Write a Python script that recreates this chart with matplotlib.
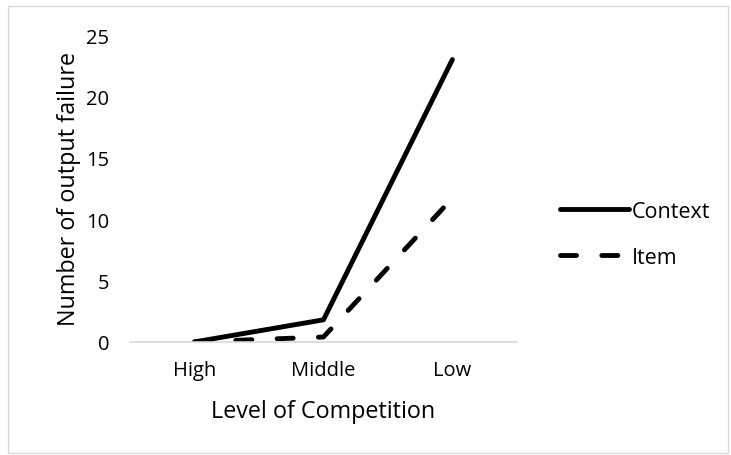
import matplotlib.pyplot as plt

levels = ['High', 'Middle', 'Low']
context = [0, 1.8, 23]
item = [0, 0.4, 11.7]

plt.rcParams['font.family'] = ['Open Sans', 'DejaVu Sans']

fig = plt.figure(figsize=(7.31, 4.56), dpi=100)
ax = fig.add_axes([0.178, 0.248, 0.529, 0.673])

x = range(len(levels))
ax.plot(x, context, color='black', lw=3.5, solid_capstyle='round', label='Context')
ax.plot(x, item, color='black', lw=3.5, dashes=(3.3, 5.2), dash_capstyle='round', label='Item')

ax.set_xlim(-0.5, 2.5)
ax.set_ylim(0, 25)
ax.set_yticks([0, 5, 10, 15, 20, 25])
ax.set_xticks(list(x))
ax.set_xticklabels(levels)
ax.tick_params(length=0, labelsize=14.5, colors='#000000')
ax.tick_params(axis='y', pad=15)
ax.tick_params(axis='x', pad=13)
for s in ['top', 'right', 'left']:
    ax.spines[s].set_visible(False)
ax.spines['bottom'].set_color('#d9d9d9')
ax.spines['bottom'].set_linewidth(1.2)

ax.set_xlabel('Level of Competition', fontsize=16.8, labelpad=14)
ax.set_ylabel('Number of output failure', fontsize=16.8, labelpad=4)

fig.legend(loc='center left', bbox_to_anchor=(0.752, 0.484), frameon=False, borderpad=0,
           fontsize=15.5, handlelength=3.2, handletextpad=0.1, labelspacing=1.15)

# light gray outer border like the original chart area
fig.patches.append(plt.Rectangle((0.011, 0.004), 0.985, 0.98, transform=fig.transFigure,
                                 fill=False, edgecolor='#d9d9d9', lw=1))

fig.savefig('out.png', dpi=100)
